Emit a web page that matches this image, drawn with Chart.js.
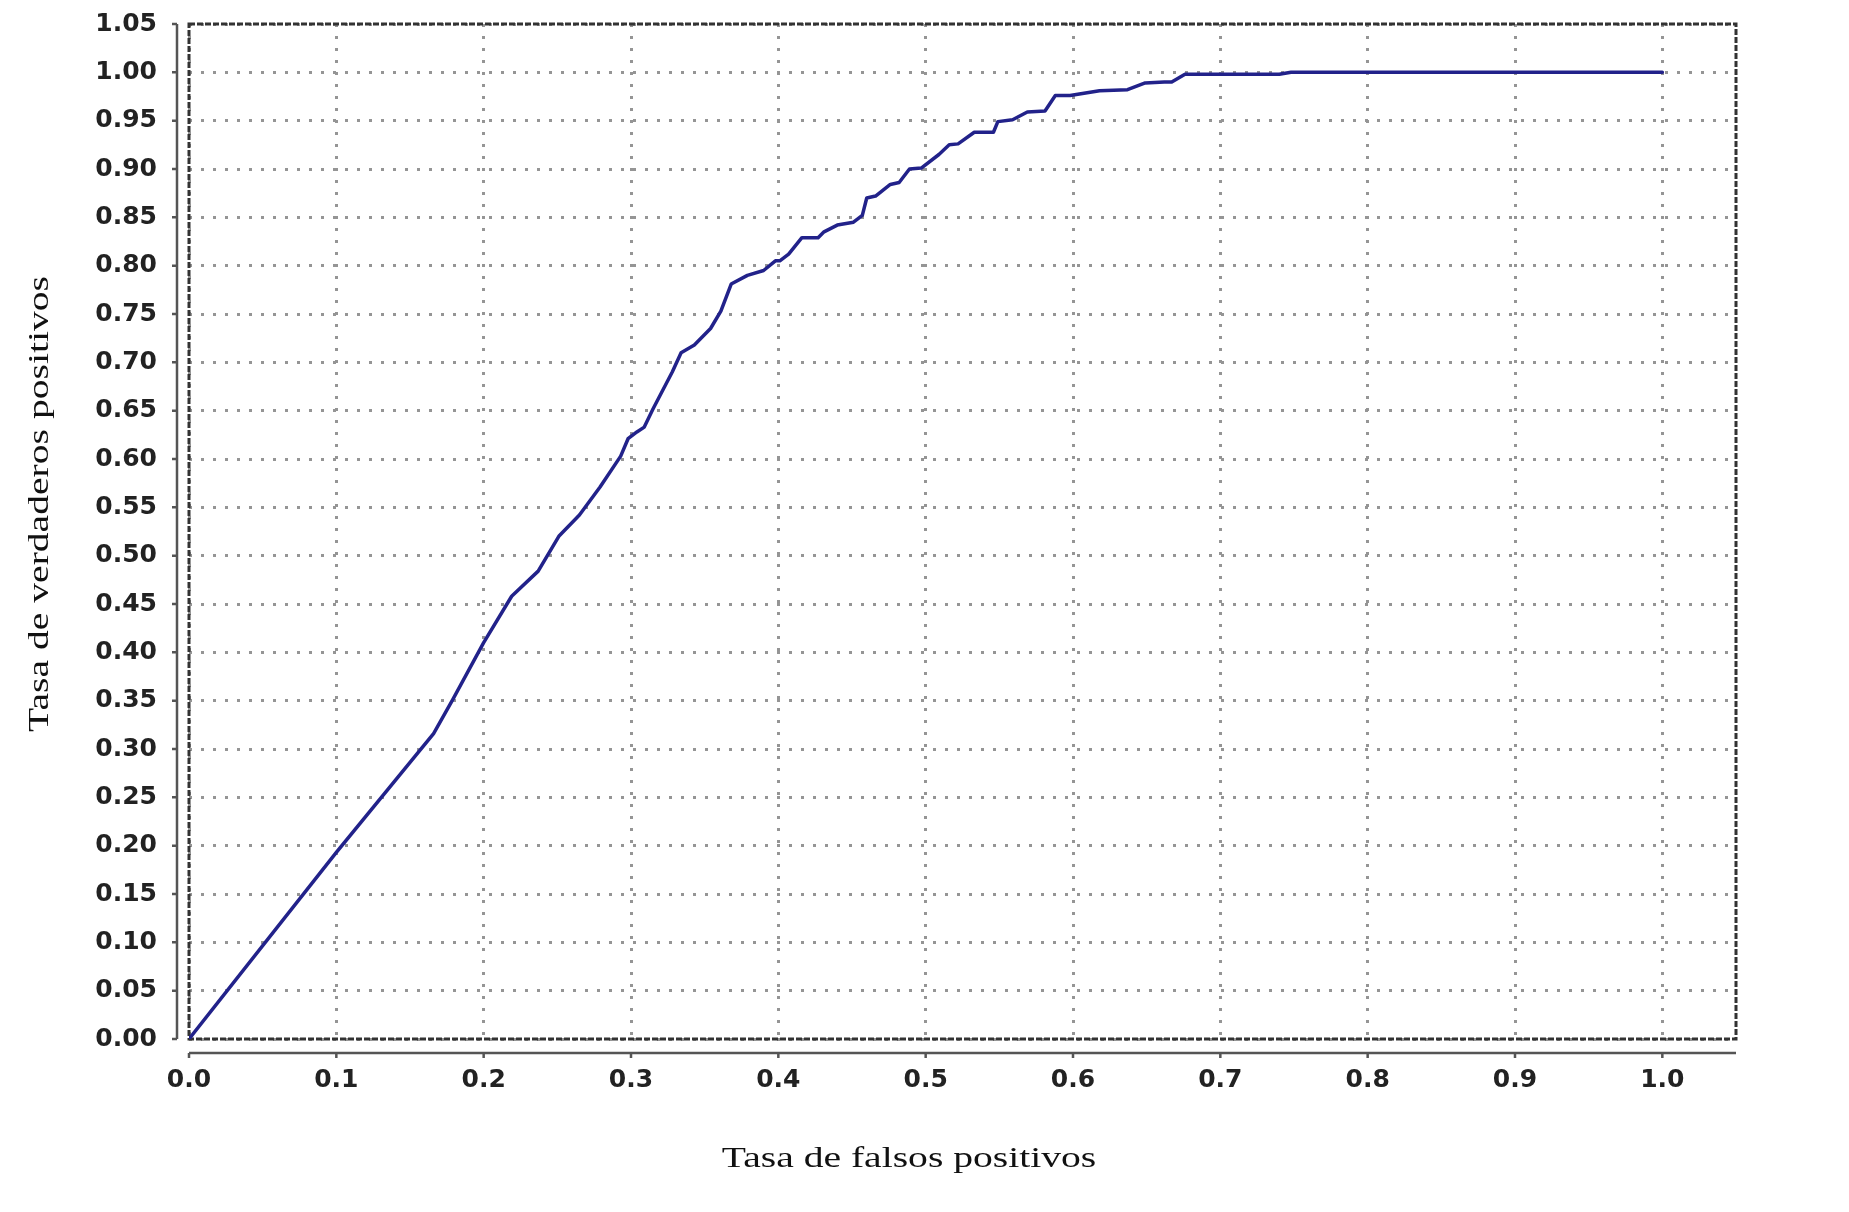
<!DOCTYPE html>
<html lang="es">
<head>
<meta charset="utf-8">
<title>Curva ROC</title>
<script src="https://cdn.jsdelivr.net/npm/chart.js@4.4.1/dist/chart.umd.min.js"></script>
<style>
    html, body { margin: 0; padding: 0; background: #fff; }
    canvas { display: block; }
</style>
</head>
<body>
<canvas id="roc" width="1849" height="1212"></canvas>
<script>
// Curva ROC
const fpr = [0, 0.1, 0.166, 0.179, 0.2, 0.219, 0.237, 0.251, 0.265, 0.279,
    0.293, 0.298, 0.304, 0.309, 0.315, 0.328, 0.334, 0.343, 0.354, 0.361,
    0.368, 0.379, 0.39, 0.398, 0.401, 0.407, 0.416, 0.427, 0.431, 0.44,
    0.451, 0.457, 0.46, 0.466, 0.476, 0.482, 0.489, 0.497, 0.509, 0.516,
    0.522, 0.533, 0.546, 0.549, 0.559, 0.569, 0.581, 0.588, 0.598, 0.618,
    0.637, 0.649, 0.662, 0.667, 0.676, 0.74, 0.748, 1.0];
const tpr = [0, 0.193, 0.316, 0.351, 0.41, 0.458, 0.484, 0.52, 0.542, 0.571,
    0.603, 0.621, 0.628, 0.633, 0.652, 0.69, 0.71, 0.718, 0.735, 0.753,
    0.781, 0.79, 0.795, 0.805, 0.805, 0.812, 0.829, 0.829, 0.835, 0.842,
    0.845, 0.852, 0.87, 0.872, 0.884, 0.886, 0.9, 0.901, 0.915, 0.925,
    0.926, 0.938, 0.938, 0.949, 0.951, 0.959, 0.96, 0.976, 0.976, 0.981,
    0.982, 0.989, 0.99, 0.99, 0.998, 0.998, 1.0, 1.0];

const xTicks = [0, 0.1, 0.2, 0.3, 0.4, 0.5, 0.6, 0.7, 0.8, 0.9, 1.0];
const yTicks = [0, 0.05, 0.1, 0.15, 0.2, 0.25, 0.3, 0.35, 0.4, 0.45, 0.5,
    0.55, 0.6, 0.65, 0.7, 0.75, 0.8, 0.85, 0.9, 0.95, 1.0, 1.05];

const xTitle = 'Tasa de falsos positivos';
const yTitle = 'Tasa de verdaderos positivos';

const tickFont = { family: '"DejaVu Sans", Verdana, sans-serif', size: 25, weight: 'bold' };

// marco punteado del area de trazado
const framePlugin = {
    id: 'marco',
    beforeDatasetsDraw(chart) {
        const { ctx, chartArea: a } = chart;
        ctx.save();
        ctx.strokeStyle = '#333';
        ctx.lineWidth = 3;
        ctx.setLineDash([6, 2]);
        ctx.strokeRect(a.left, a.top, a.right - a.left, a.bottom - a.top);
        ctx.restore();
    }
};

// ejes separados del marco + titulos
const axesPlugin = {
    id: 'ejes',
    afterDraw(chart) {
        const { ctx, chartArea: a, scales } = chart;
        ctx.save();
        ctx.strokeStyle = '#555';
        ctx.lineWidth = 2.5;

        // eje y
        const ax = a.left - 12;
        ctx.beginPath();
        ctx.moveTo(ax, scales.y.getPixelForValue(1.05));
        ctx.lineTo(ax, scales.y.getPixelForValue(0));
        yTicks.forEach(v => {
            const py = scales.y.getPixelForValue(v);
            ctx.moveTo(ax - 5, py);
            ctx.lineTo(ax, py);
        });
        ctx.stroke();

        // eje x
        const ay = a.bottom + 14;
        ctx.beginPath();
        ctx.moveTo(scales.x.getPixelForValue(0), ay);
        ctx.lineTo(a.right, ay);
        xTicks.forEach(v => {
            const px = scales.x.getPixelForValue(v);
            ctx.moveTo(px, ay);
            ctx.lineTo(px, ay + 5);
        });
        ctx.stroke();

        // titulos (serif algo ensanchada, como en el original)
        ctx.fillStyle = '#111';
        ctx.font = '30px "Liberation Serif", "Times New Roman", serif';
        ctx.textAlign = 'center';
        ctx.textBaseline = 'alphabetic';

        ctx.save();
        ctx.translate(909, 1167);
        ctx.scale(1.32, 1);
        ctx.fillText(xTitle, 0, 0);
        ctx.restore();

        ctx.save();
        ctx.translate(48, 504);
        ctx.rotate(-Math.PI / 2);
        ctx.scale(1.32, 1);
        ctx.fillText(yTitle, 0, 0);
        ctx.restore();

        ctx.restore();
    }
};

const ctx = document.getElementById('roc').getContext('2d');
new Chart(ctx, {
    type: 'line',
    data: {
        datasets: [{
            data: fpr.map((x, i) => ({ x: x, y: tpr[i] })),
            borderColor: '#22228a',
            borderWidth: 3.5,
            borderJoinStyle: 'round',
            borderCapStyle: 'round',
            pointRadius: 0,
            tension: 0,
            fill: false
        }]
    },
    options: {
        responsive: false,
        devicePixelRatio: 1,
        animation: false,
        layout: { padding: { top: 24, right: 113, left: 0, bottom: 0 } },
        plugins: {
            legend: { display: false },
            tooltip: { enabled: false }
        },
        scales: {
            x: {
                type: 'linear',
                min: 0,
                max: 1.05,
                afterBuildTicks: s => { s.ticks = xTicks.map(v => ({ value: v })); },
                afterFit: s => {
                    s.height = 1212 - 1039;
                    s.paddingLeft = 0;
                    s.paddingRight = 0;
                },
                ticks: {
                    autoSkip: false,
                    maxRotation: 0,
                    padding: 26,
                    color: '#222',
                    font: tickFont,
                    callback: v => v.toFixed(1)
                },
                grid: { color: '#959595', lineWidth: 3, drawTicks: false },
                border: { display: false, dash: [3, 9] }
            },
            y: {
                min: 0,
                max: 1.05,
                afterBuildTicks: s => { s.ticks = yTicks.map(v => ({ value: v })); },
                afterFit: s => {
                    s.width = 189;
                    s.paddingTop = 0;
                    s.paddingBottom = 0;
                },
                ticks: {
                    autoSkip: false,
                    padding: 32,
                    color: '#222',
                    font: tickFont,
                    callback: v => v.toFixed(2)
                },
                grid: { color: '#959595', lineWidth: 3, drawTicks: false },
                border: { display: false, dash: [3, 9] }
            }
        }
    },
    plugins: [framePlugin, axesPlugin]
});
</script>
</body>
</html>
